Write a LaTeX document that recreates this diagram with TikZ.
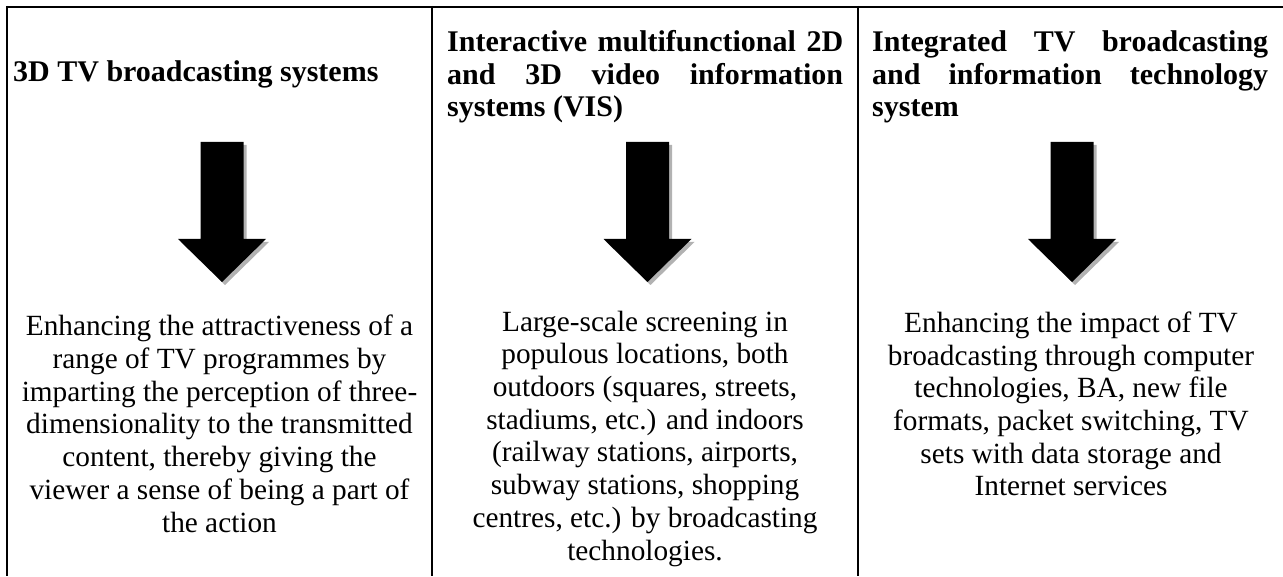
\documentclass[tikz,border=0pt]{standalone}
\usepackage{fontspec}
\setmainfont{Liberation Serif}
\newcommand{\jline}[1]{\makebox[396pt][s]{#1}}

\begin{document}
\begin{tikzpicture}[x=1pt,y=1pt,
  rule/.style={line width=2.5pt},
  head/.style={inner sep=0pt,font=\fontsize{30}{32.7}\selectfont\bfseries,align=left,anchor=base west},
  body/.style={inner sep=0pt,font=\fontsize{29.3}{32.7}\selectfont,align=center,anchor=base},
  shade/.style={fill=black!30},
  blk/.style={fill=black}]
\useasboundingbox (0,0) rectangle (1283,576);

\draw[rule] (7,569)--(1283,569);
\draw[rule] (7,570)--(7,0);
\draw[rule] (432,570)--(432,0);
\draw[rule] (858,570)--(858,0);

\node[head] (head1) at (13,494) {3D TV broadcasting systems};
\node[head] (head2) at (447,459) {\jline{Interactive multifunctional 2D}\\\jline{and 3D video information}\\systems (VIS)};
\node[head] (head3) at (872,459) {\jline{Integrated TV broadcasting}\\\jline{and information technology}\\system};

\fill[shade] (203.5,431)--(246.5,431)--(246.5,334)--(269,334)--(225,291)--(181,334)--(203.5,334)--cycle;
\fill[blk] (200.5,434)--(243.5,434)--(243.5,337)--(266,337)--(222,294)--(178,337)--(200.5,337)--cycle;

\fill[shade] (629,431)--(672,431)--(672,334)--(694.5,334)--(650.5,291)--(606.5,334)--(629,334)--cycle;
\fill[blk] (626,434)--(669,434)--(669,337)--(691.5,337)--(647.5,294)--(603.5,337)--(626,337)--cycle;

\fill[shade] (1053.5,431)--(1096.5,431)--(1096.5,334)--(1119,334)--(1075,291)--(1031,334)--(1053.5,334)--cycle;
\fill[blk] (1050.5,434)--(1093.5,434)--(1093.5,337)--(1116,337)--(1072,294)--(1028,337)--(1050.5,337)--cycle;

\node[body] (body1) at (219.5,44) {Enhancing the attractiveness of a\\range of TV programmes by\\imparting the perception of three-\\dimensionality to the transmitted\\content, thereby giving the\\viewer a sense of being a part of\\the action};
\node[body] (body2) at (645,16) {Large-scale screening in\\populous locations, both\\outdoors (squares, streets,\\stadiums, etc.) and indoors\\(railway stations, airports,\\subway stations, shopping\\centres, etc.) by broadcasting\\technologies.};
\node[body] (body3) at (1071,80) {Enhancing the impact of TV\\broadcasting through computer\\technologies, BA, new file\\formats, packet switching, TV\\sets with data storage and\\Internet services};
\end{tikzpicture}
\end{document}
